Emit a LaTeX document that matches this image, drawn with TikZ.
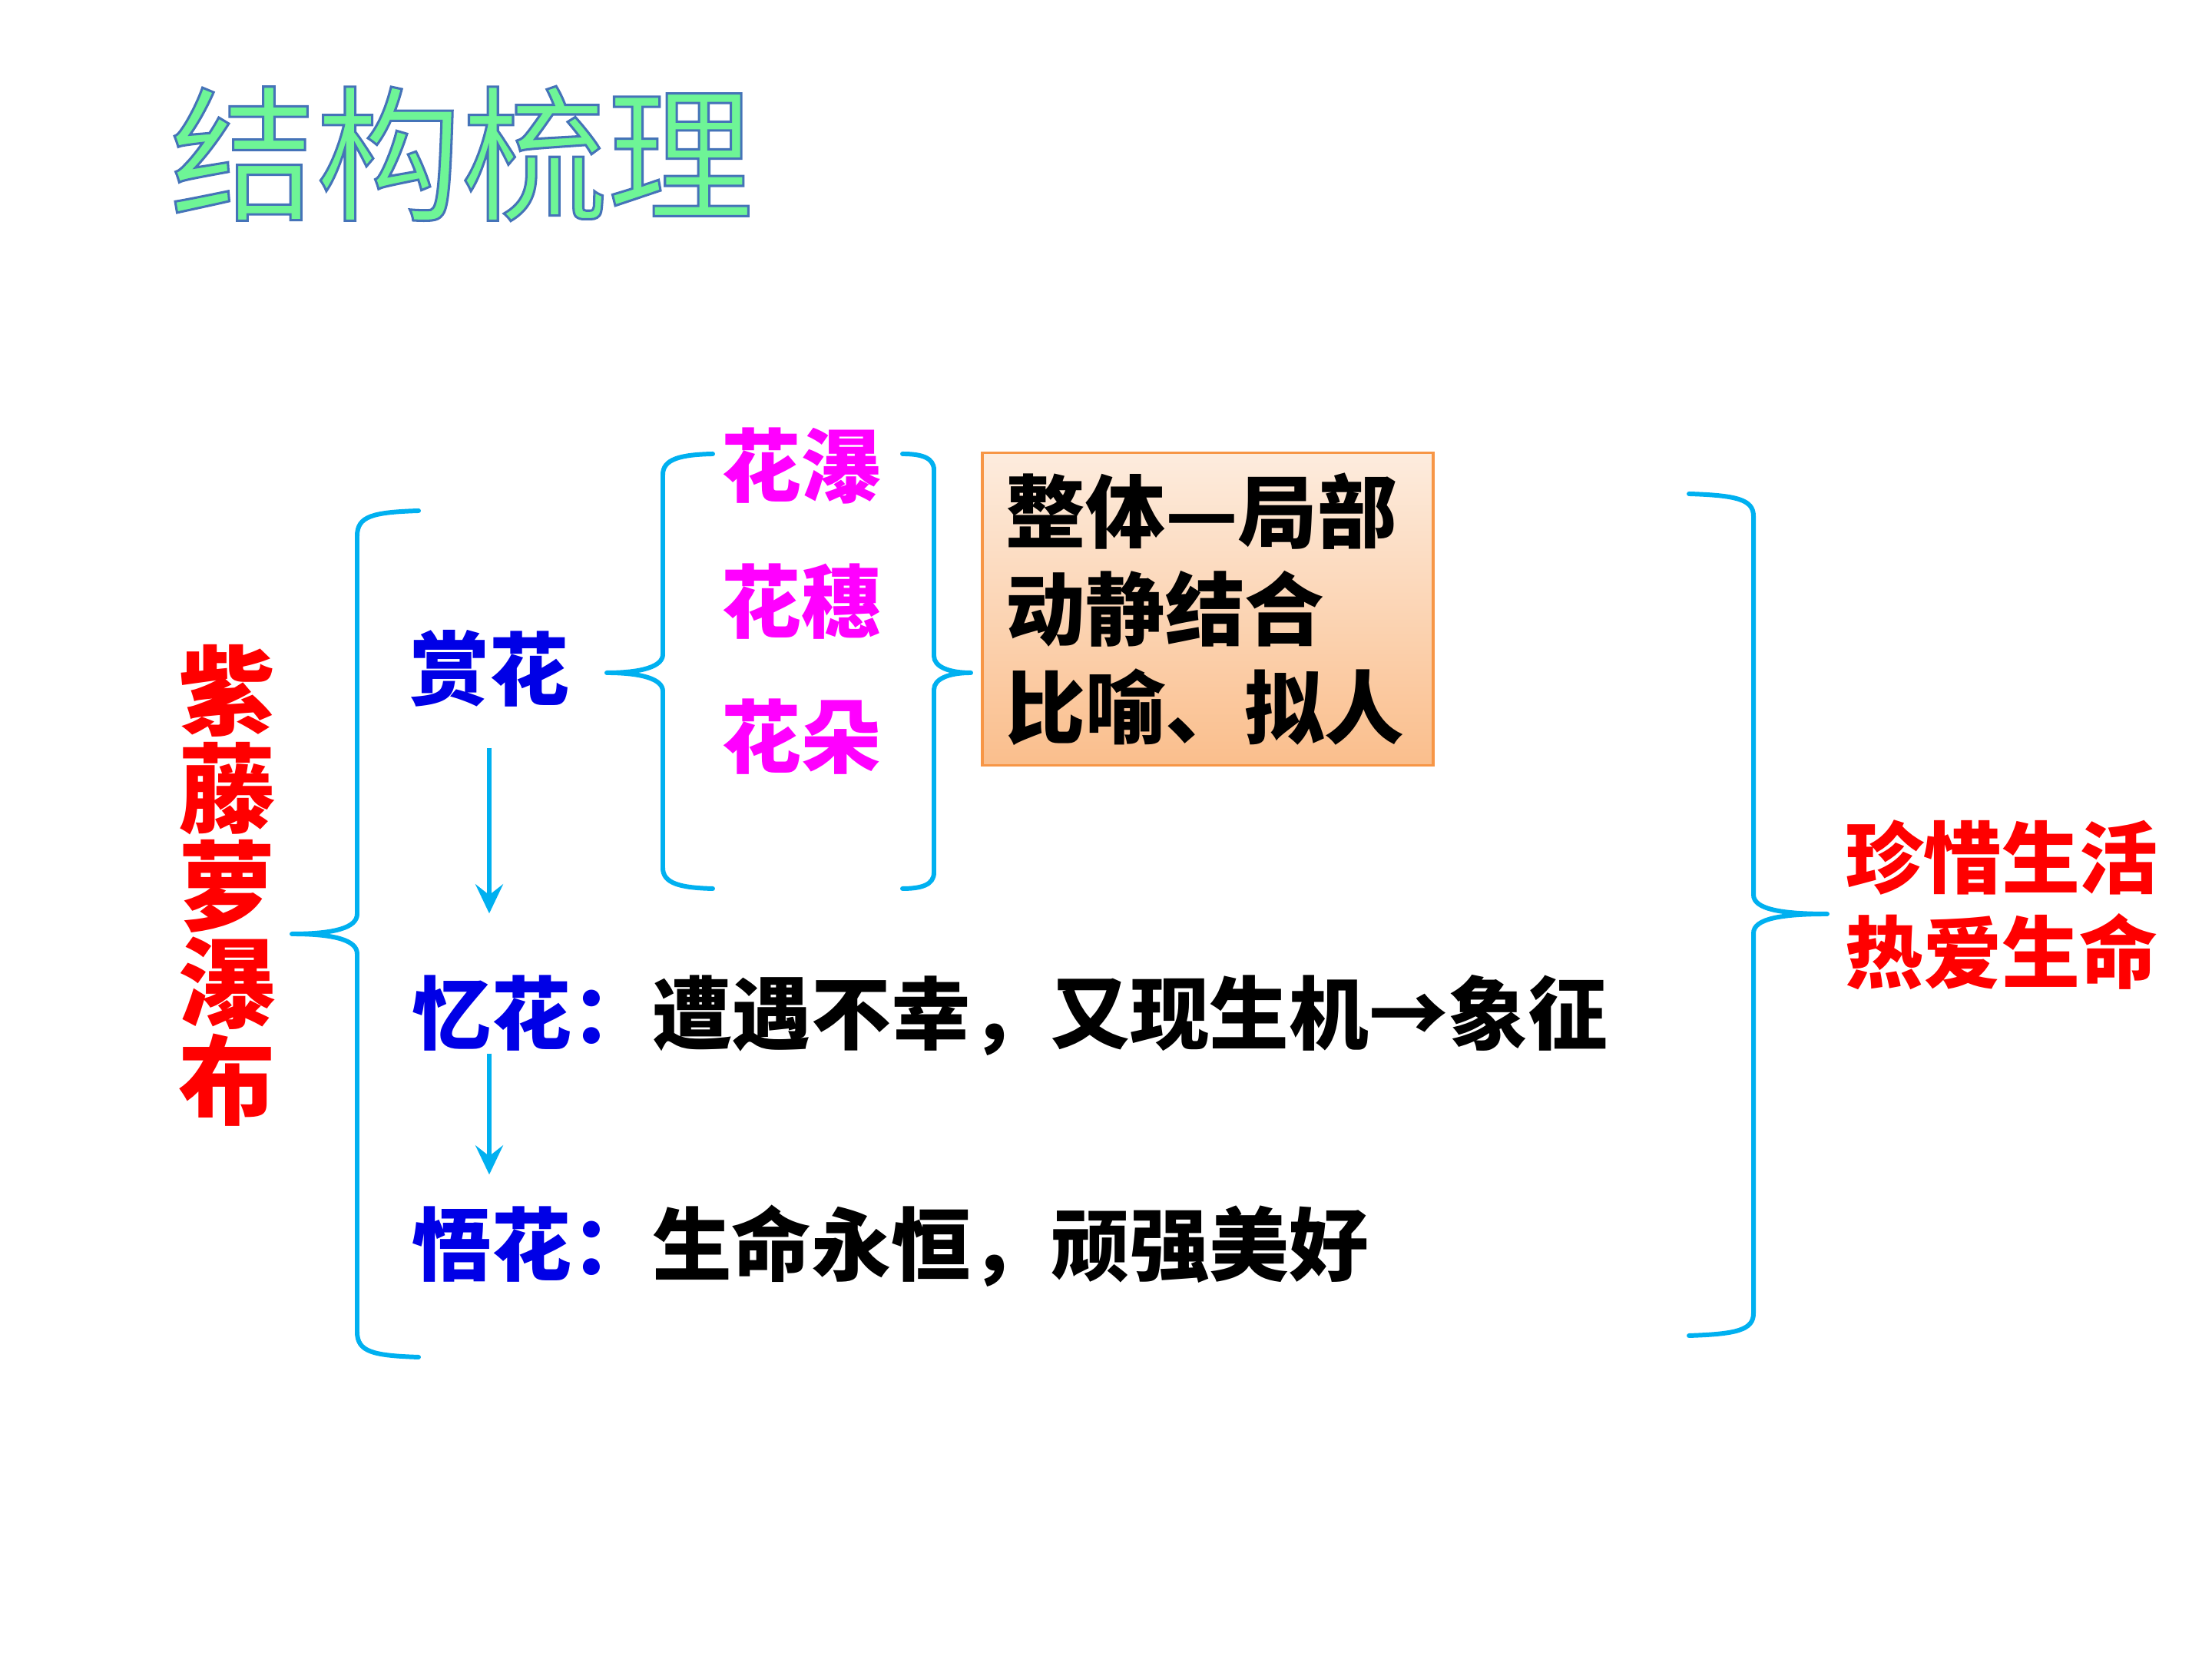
\documentclass[tikz,border=0pt]{standalone}
\usepackage{fontspec}
\setmainfont{Noto Sans CJK SC}
\newfontfamily\titlefont{Noto Sans CJK SC}[FakeBold=1.6]
\usetikzlibrary{arrows.meta, positioning}
\definecolor{linecyan}{RGB}{0,176,240}
\definecolor{labelblue}{RGB}{0,0,230}
\definecolor{pinkmag}{RGB}{255,0,255}
\definecolor{titlegreen}{RGB}{110,245,150}
\definecolor{boxedge}{RGB}{247,150,70}
\definecolor{boxtop}{RGB}{253,236,222}
\definecolor{boxbottom}{RGB}{250,190,140}

\begin{document}
\begin{tikzpicture}[
  cjktext/.style={inner sep=0pt, text height=0.92cm, text depth=0.12cm, font=\fontsize{29.5}{36.4}\selectfont\bfseries},
  bracepath/.style={draw=linecyan, line width=1.7pt, line cap=round, line join=round},
  flow/.style={draw=linecyan, line width=1.5pt, -{Stealth[length=3.8mm, width=3.6mm, inset=1.4mm]}}]
\useasboundingbox (0,0) rectangle (28.8,21.6);
\fill [white] (0,0) rectangle (28.8,21.6);
% title
\node [font=\fontsize{54}{60}\selectfont\titlefont, text=titlegreen] (title) at (6.01,19.6) {\special{pdf:code 0.27 0.45 0.72 RG}结构梳理};
% left side
\node [font=\fontsize{36}{36.1}\selectfont\bfseries, text=red, align=center, inner sep=0pt] (ziteng) at (2.96,10.07) {紫\\藤\\萝\\瀑\\布};
\draw [bracepath] (5.45,14.95) .. controls (4.85,14.93) and (4.65,14.88) .. (4.65,14.62) -- (4.65,9.70) .. controls (4.65,9.52) and (4.35,9.44) .. (3.80,9.44) .. controls (4.35,9.44) and (4.65,9.36) .. (4.65,9.18) -- (4.65,4.26) .. controls (4.65,4.00) and (4.85,3.95) .. (5.45,3.93);
% reading the flowers
\node [cjktext, text=labelblue] (shang) at (6.37,12.89) {赏花};
\draw [bracepath] (9.28,15.69) .. controls (8.85,15.68) and (8.63,15.62) .. (8.63,15.42) -- (8.63,13.08) .. controls (8.63,12.92) and (8.35,12.84) .. (7.90,12.84) .. controls (8.35,12.84) and (8.63,12.76) .. (8.63,12.60) -- (8.63,10.30) .. controls (8.63,10.10) and (8.85,10.04) .. (9.28,10.03);
\node [cjktext, text=pinkmag] (hpu) at (10.43,15.54) {花瀑};
\node [cjktext, text=pinkmag, below=0.71cm of hpu] (hsui) {花穗};
\node [cjktext, text=pinkmag, below=0.71cm of hsui] (hduo) {花朵};
\draw [bracepath] (11.75,15.69) .. controls (12.0,15.69) and (12.16,15.64) .. (12.16,15.48) -- (12.16,13.06) .. controls (12.16,12.92) and (12.35,12.84) .. (12.64,12.84) .. controls (12.35,12.84) and (12.16,12.76) .. (12.16,12.62) -- (12.16,10.24) .. controls (12.16,10.08) and (12.0,10.03) .. (11.75,10.03);
\node [draw=boxedge, line width=1pt, top color=boxtop, bottom color=boxbottom, minimum width=5.87cm, minimum height=4.07cm, text width=5.25cm, inner xsep=0.31cm, align=left, anchor=north west, font=\fontsize{29.5}{36.4}\selectfont\bfseries] (method) at (12.77,15.72) {整体—局部\\动静结合\\比喻、拟人};
% remembering and understanding
\node [cjktext, text=labelblue, anchor=west] (yi) at (5.36,8.41) {忆花：};
\node [cjktext, right=0pt of yi] (yitext) {遭遇不幸，又现生机→象征};
\node [cjktext, text=labelblue, anchor=west] (wu) at (5.36,5.40) {悟花：};
\node [cjktext, right=0pt of wu] (wutext) {生命永恒，顽强美好};
\draw [flow, shorten <=0.5cm, shorten >=0.77cm] (shang.south) -- (shang.south |- yi.north);
\draw [flow, shorten >=0.38cm] (yi.south -| shang.south) -- (wu.north -| shang.south);
% right side
\draw [bracepath] (21.99,15.17) .. controls (22.6,15.15) and (22.83,15.10) .. (22.83,14.88) -- (22.83,9.95) .. controls (22.83,9.76) and (23.2,9.70) .. (23.79,9.70) .. controls (23.2,9.70) and (22.83,9.64) .. (22.83,9.45) -- (22.83,4.50) .. controls (22.83,4.28) and (22.6,4.23) .. (21.99,4.21);
\node [font=\fontsize{29}{35}\selectfont\bfseries, text=red, align=left, inner sep=0pt] (zhenxi) at (26.06,9.815) {珍惜生活\\热爱生命};
\end{tikzpicture}
\end{document}
